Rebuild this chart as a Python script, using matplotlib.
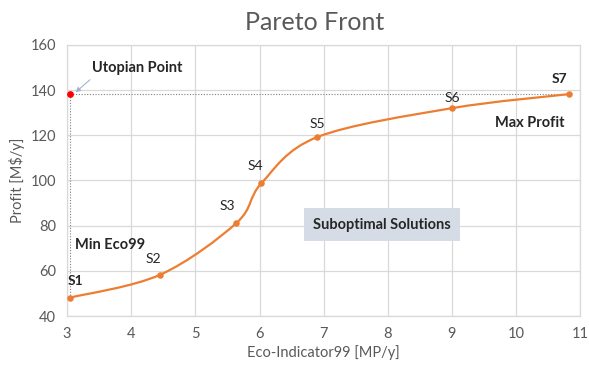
import matplotlib
matplotlib.use("Agg")
import matplotlib.pyplot as plt
import numpy as np
from matplotlib.path import Path
from matplotlib.patches import PathPatch

plt.rcParams['font.family'] = ['Lato', 'DejaVu Sans']

# Pareto solutions: environmental impact vs profit
labels = ["S1", "S2", "S3", "S4", "S5", "S6", "S7"]
eco99 = [3.05, 4.45, 5.64, 6.03, 6.90, 9.00, 10.82]
profit = [48.2, 58.3, 81.2, 98.8, 119.2, 132.0, 138.2]
bold_labels = ["S1", "S7"]

# Ideal point: lowest impact with highest profit
utopia_x = eco99[0]
utopia_y = profit[-1]

x_ticks = [3, 4, 5, 6, 7, 8, 9, 10, 11]
y_ticks = [40, 60, 80, 100, 120, 140, 160]

orange = "#ED7D31"
gray_txt = "#595959"


def smooth_path(xs, ys, tension=1.0 / 6):
    """Bezier path through the points (spreadsheet-style smoothed line)."""
    pts = np.column_stack([xs, ys]).astype(float)
    n = len(pts)
    verts = [pts[0]]
    codes = [Path.MOVETO]
    for i in range(n - 1):
        p0 = pts[i - 1] if i > 0 else pts[i]
        p1 = pts[i]
        p2 = pts[i + 1]
        p3 = pts[i + 2] if i + 2 < n else pts[i + 1]
        c1 = p1 + (p2 - p0) * tension
        c2 = p2 - (p3 - p1) * tension
        verts += [c1, c2, p2]
        codes += [Path.CURVE4] * 3
    return Path(verts, codes)


fig = plt.figure(figsize=(5.89, 3.65), dpi=100)
ax = fig.add_axes([0.114, 0.134, 0.871, 0.743])

ax.set_xlim(3, 11)
ax.set_ylim(40, 160)
ax.set_xticks(x_ticks)
ax.set_yticks(y_ticks)
ax.grid(True, color="#D9D9D9", linewidth=0.9)
ax.set_axisbelow(True)
for s in ax.spines.values():
    s.set_color("#D9D9D9")
    s.set_linewidth(0.9)
ax.tick_params(length=0, labelsize=10.5, colors=gray_txt, pad=8)

# Reference lines from the utopian point
ax.plot([utopia_x, eco99[-1]], [utopia_y, profit[-1]], linestyle=(0, (1, 1.5)),
        color="#7F7F7F", linewidth=0.8, zorder=2)
ax.plot([utopia_x, eco99[0]], [utopia_y, profit[0]], linestyle=(0, (1, 1.5)),
        color="#7F7F7F", linewidth=0.8, zorder=2)

# Smoothed front and its points
path = smooth_path(eco99, profit)
ax.add_patch(PathPatch(path, facecolor="none", edgecolor=orange, linewidth=1.6, zorder=3))
ax.scatter(eco99, profit, s=22, color=orange, zorder=4, linewidths=0)
ax.scatter([utopia_x], [utopia_y], s=24, color="#FF0000", zorder=5, linewidths=0)

# Point labels
offsets = {"S1": (0.08, 7.5), "S2": (-0.1, 7.0), "S3": (-0.15, 7.5), "S4": (-0.1, 7.5),
           "S5": (0.0, 6.0), "S6": (0.0, 4.7), "S7": (-0.15, 6.5)}
for lab, x, y in zip(labels, eco99, profit):
    dx, dy = offsets[lab]
    ax.text(x + dx, y + dy, lab, ha="center", va="center", fontsize=10,
            fontweight="bold" if lab in bold_labels else "normal", color="#262626", zorder=6)

ax.annotate("Utopian Point", xy=(utopia_x + 0.08, utopia_y + 0.8),
            xytext=(4.1, 149.7), ha="center", va="center", fontsize=10.5,
            fontweight="bold", color="#262626",
            arrowprops=dict(arrowstyle="-|>", color="#A6B4CC", linewidth=0.8,
                            shrinkA=2, shrinkB=0, mutation_scale=7,
                            relpos=(0.03, 0.0)))

ax.text(3.12, 71.5, "Min Eco99", ha="left", va="center", fontsize=10.5,
        fontweight="bold", color="#262626")
ax.text(10.75, 125.5, "Max Profit", ha="right", va="center", fontsize=10.5,
        fontweight="bold", color="#262626")
ax.text(7.91, 80.5, "Suboptimal Solutions", ha="center", va="center", fontsize=10.5,
        fontweight="bold", color="#262626",
        bbox=dict(boxstyle="square,pad=0.65", facecolor="#D6DCE5", edgecolor="none"))

ax.set_xlabel("Eco-Indicator99 [MP/y]", fontsize=10.5, color=gray_txt, labelpad=3)
ax.set_ylabel("Profit [M$/y]", fontsize=10.5, color=gray_txt, labelpad=4)
fig.text(0.534, 0.938, "Pareto Front", ha="center", va="center", fontsize=18,
         color=gray_txt)

fig.savefig("out.png", dpi=100, facecolor="white")
